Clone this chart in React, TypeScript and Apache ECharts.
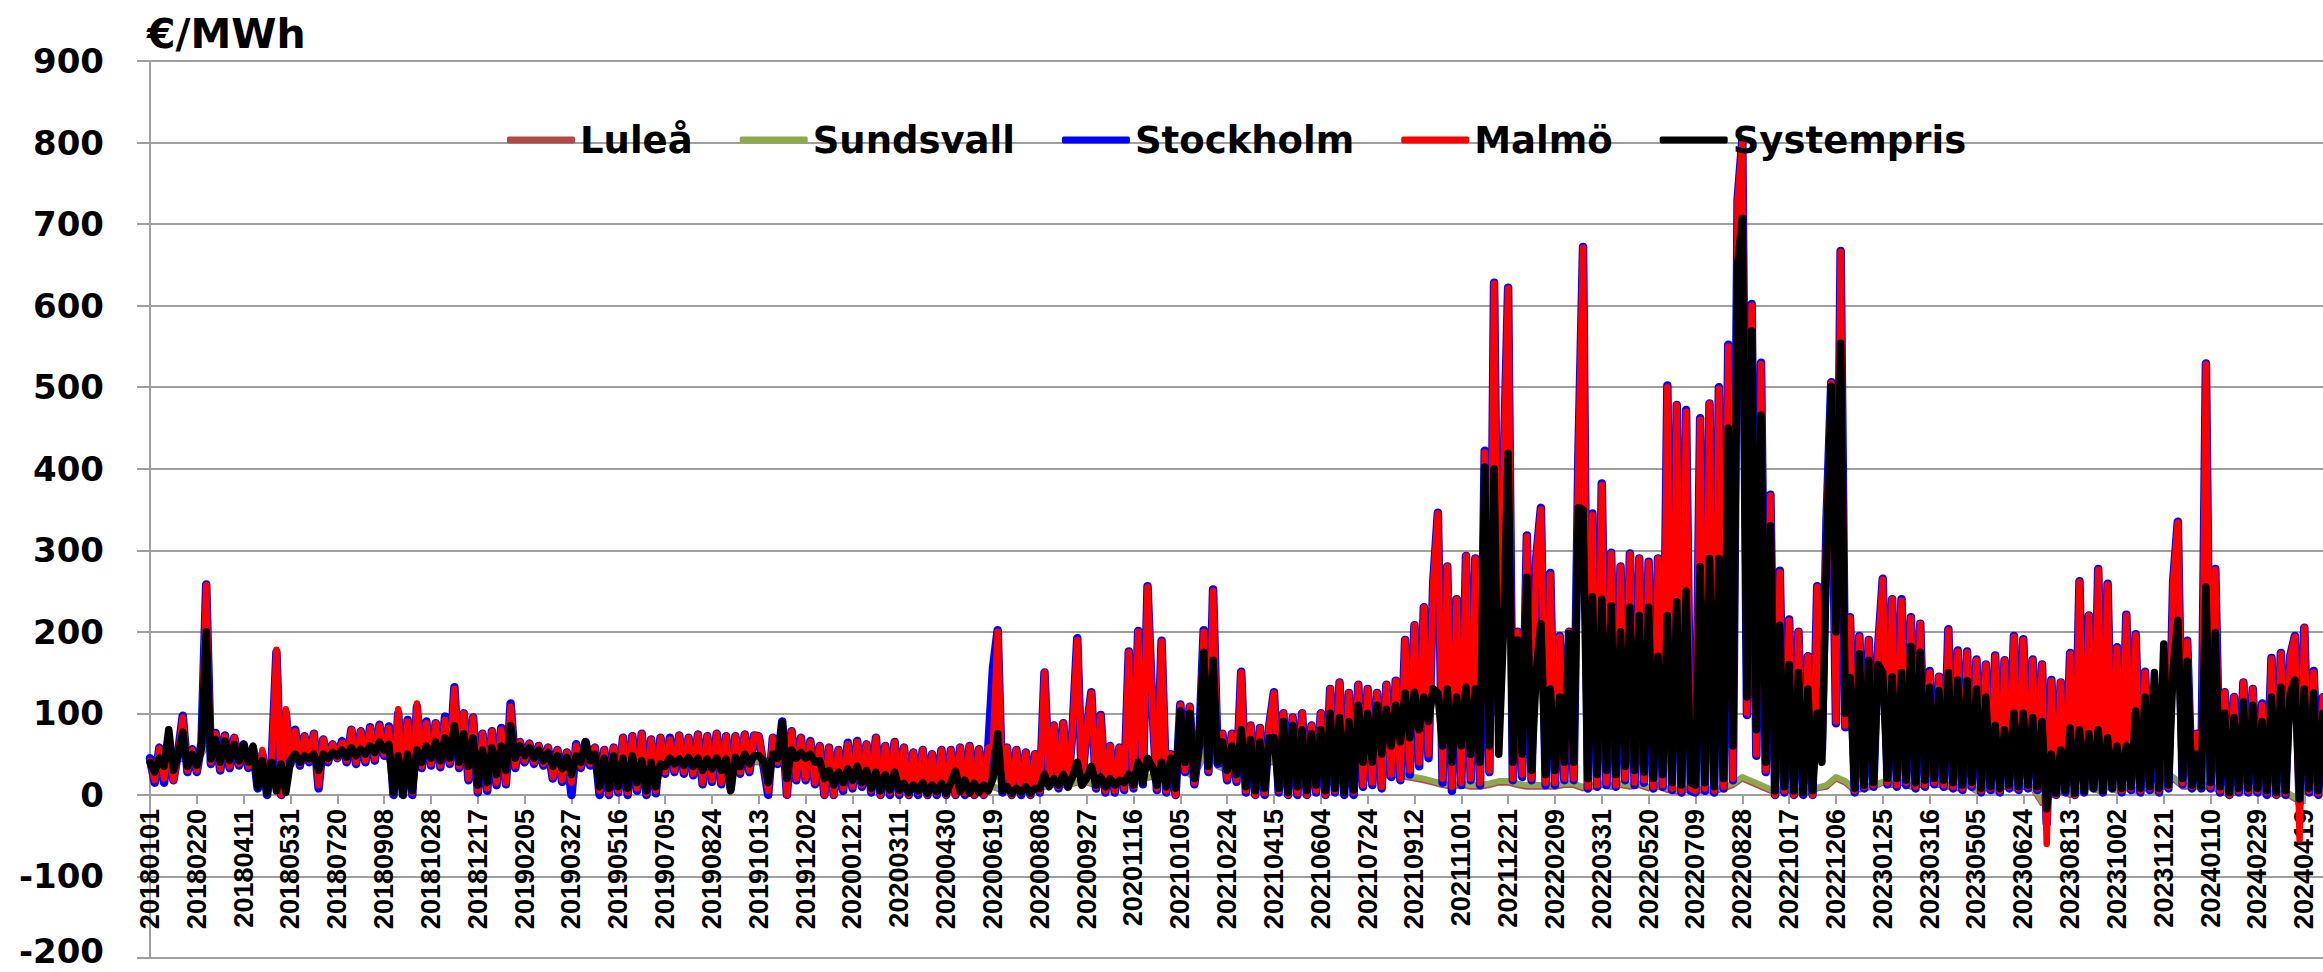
import { useEffect, useRef } from "react";
import * as echarts from "echarts";

// 5-day sampled categories, 2018-01-01 .. 2024-05-09
const START_UTC = Date.UTC(2018, 0, 1);
const STEP_DAYS = 5;
const N_POINTS = 465;
const categories: string[] = Array.from({ length: N_POINTS }, (_, i) => {
  const d = new Date(START_UTC + i * STEP_DAYS * 86400000);
  return `${d.getUTCFullYear()}${String(d.getUTCMonth() + 1).padStart(2, "0")}${String(d.getUTCDate()).padStart(2, "0")}`;
});

const yTicks = [-200, -100, 0, 100, 200, 300, 400, 500, 600, 700, 800, 900];
const seriesNames = ["Luleå", "Sundsvall", "Stockholm", "Malmö", "Systempris"];
const unitLabel = "€/MWh";

// Malmö (SE4), one value per 5 days
const malmo = [
  42,18,57,20,55,18,50,95,30,55, 30,62,257,40,75,32,72,35,70,38,
  60,35,55,10,55,2,40,178,0,105, 40,78,38,72,42,75,12,68,42,62,
  45,64,42,80,40,78,42,82,44,85, 50,82,2,105,0,90,3,112,35,88,
  38,88,36,92,40,130,35,100,20,95, 5,75,8,78,15,80,15,108,35,65,
  42,63,40,60,38,58,22,55,18,52, 15,60,35,62,38,58,5,55,2,58,
  5,70,3,72,8,75,2,68,5,70, 28,68,30,73,28,70,26,74,15,72,
  18,75,15,72,10,72,28,74,30,73, 72,38,5,70,40,88,0,78,20,70,
  20,65,15,60,0,58,0,55,8,62, 10,65,12,62,5,70,0,60,3,65,
  2,58,0,52,3,55,0,50,2,55, 0,55,0,58,2,60,0,56,0,58,
  60,200,5,58,0,55,2,52,0,50, 5,150,15,85,10,88,12,80,190,15,
  80,125,10,97,5,60,5,58,8,175, 10,200,15,255,110,8,188,5,50,0,
  110,30,108,15,60,200,30,250,40,75, 20,75,18,150,5,85,0,82,2,85,
  125,5,100,0,95,2,100,0,85,5, 100,0,130,5,138,2,125,3,135,12,
  130,15,125,10,135,25,140,20,190,30, 208,40,230,50,260,345,20,280,10,240,
  15,293,20,290,15,420,30,627,100,390, 621,20,200,25,317,20,290,350,15,270,
  15,194,20,200,20,413,671,10,343,12, 380,15,296,12,280,20,295,15,290,18,
  285,10,290,12,500,8,478,5,470,8, 5,460,8,480,5,498,10,550,20,730,
  800,100,600,50,528,30,367,0,273,5, 214,0,200,2,170,0,255,60,337,505,
  90,666,85,217,5,194,10,190,12,180, 264,15,240,12,238,15,217,10,210,12,
  150,15,145,12,202,10,176,8,175,12, 165,5,160,8,170,5,165,10,194,8,
  190,10,165,8,160,-60,140,0,138,5, 173,0,261,5,220,10,276,5,258,10,
  180,5,220,8,196,5,150,8,130,5, 130,10,261,334,15,188,10,75,10,528,
  10,276,5,126,0,120,5,138,5,130, 5,110,3,167,0,173,2,170,194,-55,
  205,5,150,2,120,
];

// Stockholm (SE3), one value per 5 days
const stockholm = [
  45,15,58,15,55,18,52,97,28,56, 28,64,258,38,76,30,73,33,70,36,
  62,33,57,8,50,0,42,175,0,100, 38,80,36,72,40,75,8,68,40,62,
  45,66,40,80,38,78,40,83,42,86, 48,84,0,100,0,92,0,108,33,90,
  36,88,34,96,38,132,33,100,18,95, 3,75,5,78,12,82,13,112,33,65,
  40,63,38,60,36,58,20,55,16,52, 0,62,33,65,36,58,0,55,0,58,
  3,70,0,72,5,75,0,68,2,70, 26,70,28,73,26,70,24,74,13,72,
  16,75,13,72,8,72,26,74,28,73, 72,36,0,70,38,90,0,78,18,70,
  18,66,13,60,0,58,0,55,5,64, 8,66,10,62,3,70,0,60,0,65,
  0,58,0,52,0,55,0,50,0,55, 0,55,0,58,0,60,0,56,0,58,
  155,202,3,58,0,55,0,52,0,50, 3,150,13,85,8,88,10,80,192,13,
  80,126,8,98,3,60,3,58,6,176, 8,201,13,256,112,6,189,3,50,0,
  111,28,108,13,60,202,28,252,38,75, 18,75,16,151,3,85,0,82,0,85,
  126,3,100,0,95,0,100,0,85,3, 100,0,130,3,138,0,125,0,135,10,
  130,12,125,8,135,22,140,18,190,25, 208,35,230,45,260,346,15,280,5,240,
  12,293,18,290,12,422,28,628,98,392, 622,18,200,22,318,18,290,352,12,272,
  12,195,18,200,18,414,672,8,345,10, 382,12,297,10,280,18,296,12,290,15,
  286,8,290,10,502,6,478,3,472,5, 3,462,5,480,3,500,8,552,18,730,
  802,98,602,48,530,28,368,0,275,3, 215,0,200,0,170,0,256,55,338,506,
  88,667,83,218,3,195,8,190,10,180, 265,13,240,10,240,12,218,8,210,10,
  152,13,145,10,203,8,177,6,176,10, 166,3,160,6,171,3,165,8,195,6,
  191,8,166,6,160,-35,141,0,138,3, 174,0,262,3,220,8,277,3,259,8,
  181,3,221,6,197,3,151,6,130,3, 131,8,262,335,13,189,8,75,8,529,
  8,277,3,126,0,120,3,138,3,130, 3,112,0,168,0,174,0,170,195,-10,
  205,3,152,0,120,
];

// Systempris, one value per 5 days
const systempris = [
  40,28,45,35,80,30,48,77,35,50, 36,58,200,44,68,40,66,42,62,42,
  62,40,60,10,42,2,40,5,38,3, 42,50,40,48,44,50,30,50,45,52,
  48,55,46,58,48,56,50,60,52,65, 55,62,3,48,0,50,5,55,40,60,
  45,65,42,70,45,85,40,75,35,70, 12,55,15,58,25,60,30,85,45,60,
  48,58,45,55,42,52,35,48,32,46, 25,48,40,65,42,50,10,45,8,48,
  10,45,8,48,15,42,5,40,10,38, 35,45,38,44,36,46,35,45,30,44,
  32,45,30,44,5,46,35,50,38,48, 48,42,15,50,45,88,20,55,45,52,
  45,50,40,42,20,30,12,28,15,32, 18,35,15,30,8,28,5,25,6,28,
  6,14,3,12,5,15,2,12,4,14, 2,15,29,4,18,2,14,3,12,5,
  20,75,5,10,2,8,3,10,2,8, 8,25,10,20,12,25,10,22,40,12,
  20,35,12,22,10,20,12,18,15,25, 12,40,15,45,35,12,40,10,45,8,
  103,40,100,20,60,175,35,165,40,65, 30,60,25,80,10,68,5,65,8,70,
  70,8,90,3,85,10,80,5,75,12, 80,5,100,8,95,3,90,6,110,40,
  100,40,110,50,105,60,110,65,125,70, 126,80,120,90,130,125,60,130,40,120,
  60,132,50,130,40,402,60,400,50,200, 419,40,190,50,267,30,150,210,25,130,
  30,120,40,198,40,352,350,20,243,25, 240,30,232,25,200,35,230,30,220,28,
  230,20,170,25,220,15,237,12,250,15, 12,280,15,290,10,290,20,450,60,650,
  707,120,569,80,466,40,330,5,208,10, 160,5,150,3,130,5,100,40,300,501,
  200,554,100,144,8,173,12,165,15,160, 150,20,145,20,150,18,182,15,175,18,
  132,20,128,18,150,15,141,12,140,15, 130,8,120,10,85,8,80,12,100,10,
  100,12,95,10,90,-17,50,2,55,5, 82,2,80,5,75,8,80,5,70,8,
  60,8,60,10,103,8,120,10,150,8, 185,12,155,214,20,164,12,50,10,255,
  15,199,10,100,3,95,8,114,8,110, 8,90,5,120,3,132,5,125,141,-5,
  130,8,125,5,100,
];

// Luleå (SE1), one value per 10 days
const lulea = [
  35,38,40,45,42, 40,60,45,45,45, 50,45,30,20,25, 42,44,40,45,48,
  50,50,52,52,55, 55,30,30,35,50, 50,52,55,50,45, 35,40,45,50,50,
  48,46,44,40,38, 36,40,38,30,32, 30,32,28,28,30, 38,38,38,36,34,
  34,32,30,38,40, 40,38,42,40,40, 38,32,25,20,22, 20,18,15,12,12,
  8,6,6,5,6, 5,6,5,5,5, 10,5,4,4,4, 8,12,12,12,15,
  15,12,12,12,15, 15,20,22,20,18, 40,25,35,60,35, 30,35,30,35,40,
  40,45,40,40,40, 40,45,40,42,30, 20,22,25,24,22, 20,18,15,12,10,
  12,10,10,12,15, 15,12,10,10,10, 10,12,12,8,10, 12,10,12,10,12,
  8,10,6,4,6, 4,6,4,8,12, 20,15,10,5,5, 5,3,3,8,10,
  20,15,5,8,10, 15,12,15,10,12, 15,12,10,8,12, 5,8,5,10,8,
  10,8,-10,0,5, 0,5,10,5,10, 5,8,5,8,5, 10,20,10,10,10,
  10,5,0,5,5, 5,3,0,2,-5, 5,2,20,
];

// Sundsvall (SE2), one value per 10 days
const sundsvall = [
  36,40,42,46,44, 42,62,46,46,46, 52,46,32,22,26, 43,45,42,46,49,
  51,51,53,53,56, 56,32,32,36,52, 51,53,56,51,46, 36,42,46,51,51,
  49,47,45,41,39, 37,41,39,31,33, 31,33,29,29,31, 39,39,39,37,35,
  35,33,31,39,41, 41,39,43,41,41, 39,33,26,21,23, 21,19,16,13,13,
  9,7,7,6,7, 6,7,6,6,6, 11,6,5,5,5, 9,13,13,13,16,
  16,13,13,13,16, 16,21,23,21,19, 42,26,36,62,36, 32,36,31,36,42,
  42,46,42,42,42, 42,46,42,44,32, 22,24,27,26,24, 22,20,17,14,12,
  14,12,12,14,17, 17,14,12,12,12, 12,14,14,10,12, 14,12,14,12,14,
  10,12,8,6,8, 6,8,6,10,14, 22,17,12,7,7, 7,5,5,9,12,
  22,17,7,10,12, 16,14,16,12,14, 16,14,12,10,14, 6,10,6,12,10,
  12,10,-8,2,6, 2,6,12,6,12, 6,10,6,10,6, 12,22,12,12,12,
  12,6,2,6,6, 6,4,2,4,-3, 6,4,22,
];

const colors = ["#B04A47", "#8EA84F", "#0000FF", "#FF0000", "#000000"];
const widths = [6, 6, 8.5, 6.5, 7.5];

export default function App() {
  const ref = useRef<HTMLDivElement>(null);
  useEffect(() => {
    if (!ref.current) return;
    const chart = echarts.init(ref.current, undefined, { renderer: "svg" });
    const dataSets: any[] = [
      lulea.map((v, j) => [j * 2, v]),
      sundsvall.map((v, j) => [j * 2, v]),
      stockholm,
      malmo,
      systempris,
    ];
    const gray = "#9F9F9F";
    const yLabelFont = { fontFamily: "DejaVu Sans", fontWeight: "bold" as const, fontSize: 34, color: "#000" };
    chart.setOption({
      animation: false,
      backgroundColor: "#ffffff",
      title: {
        text: unitLabel,
        left: 142,
        top: 8,
        textStyle: { fontFamily: "DejaVu Sans", fontWeight: "bold", fontSize: 41, color: "#000" },
      },
      legend: {
        data: seriesNames,
        left: 502,
        top: 114,
        icon: "roundRect",
        itemWidth: 68,
        itemHeight: 7,
        itemGap: 47,
        textStyle: { fontFamily: "DejaVu Sans", fontWeight: "bold", fontSize: 37, color: "#000", lineHeight: 42 },
      },
      grid: { left: 150, right: 0, top: 61, bottom: 14, containLabel: false, outerBoundsMode: "none" },
      xAxis: {
        type: "category",
        data: categories,
        boundaryGap: false,
        position: "bottom",
        offset: -163,
        axisLine: { onZero: false, lineStyle: { color: gray, width: 2 } },
        axisTick: { show: true, interval: 9, length: 9, lineStyle: { color: gray, width: 2 } },
        axisLabel: {
          interval: 9,
          rotate: 90,
          margin: 14,
          fontFamily: "'Liberation Sans', Arial, sans-serif",
          fontWeight: "bold",
          fontSize: 27,
          color: "#000",
        },
        splitLine: { show: false },
      },
      yAxis: {
        type: "value",
        min: yTicks[0],
        max: yTicks[yTicks.length - 1],
        interval: 100,
        axisLine: { show: true, lineStyle: { color: gray, width: 2 } },
        axisTick: { show: true, length: 13, lineStyle: { color: gray, width: 2 } },
        axisLabel: {
          margin: 46,
          ...yLabelFont,
          lineHeight: 26,
          formatter: (v: number) => (v === yTicks[0] ? `{lo|${v}}` : `${v}`),
          rich: {
            lo: { ...yLabelFont, lineHeight: 26, padding: [0, 0, 14, 0] },
          },
        },
        splitLine: { show: true, lineStyle: { color: gray, width: 2 } },
      },
      series: seriesNames.map((name, k) => ({
        name,
        type: "line",
        data: dataSets[k],
        showSymbol: false,
        symbol: "none",
        lineStyle: { color: colors[k], width: widths[k], join: "round", cap: "round" },
        itemStyle: { color: colors[k] },
        emphasis: { disabled: true },
      })),
    });
    return () => chart.dispose();
  }, []);
  return (
    <div
      ref={ref}
      style={{ position: "fixed", left: 0, top: 0, width: 2323, height: 972, background: "#fff" }}
    />
  );
}
